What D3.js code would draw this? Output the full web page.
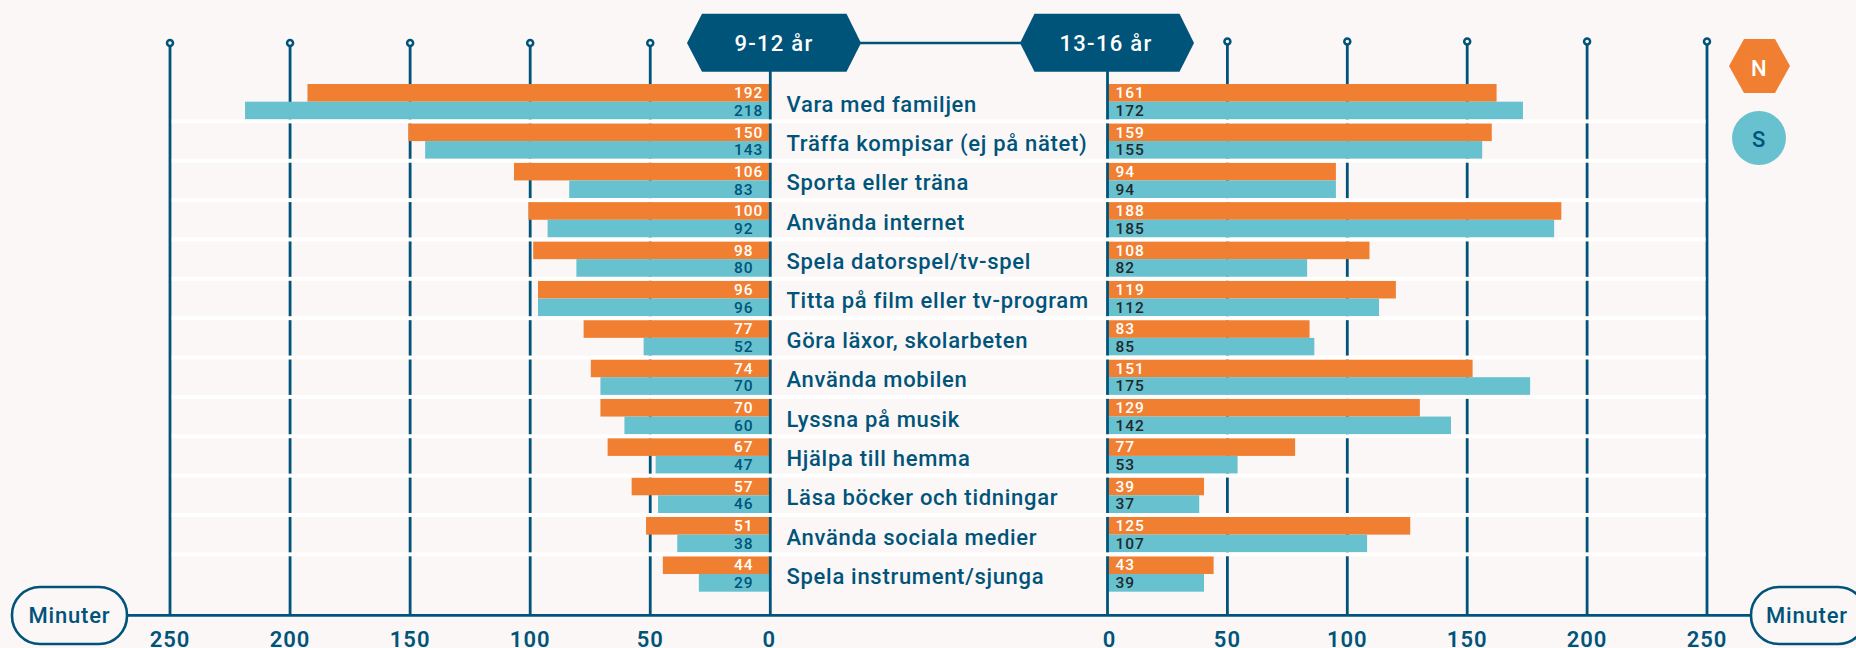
<!DOCTYPE html>
<html>
<head>
<meta charset="utf-8">
<script src="https://cdn.jsdelivr.net/npm/d3@7"></script>
<style>
html, body { margin: 0; padding: 0; background: #fbf7f6; overflow: hidden; }
text { font-family: "Roboto", "Noto Sans", sans-serif; font-weight: 500; }
</style>
</head>
<body>
<div id="chart"></div>
<script>
const categories = ['Vara med familjen', 'Träffa kompisar (ej på nätet)', 'Sporta eller träna', 'Använda internet', 'Spela datorspel/tv-spel', 'Titta på film eller tv-program', 'Göra läxor, skolarbeten', 'Använda mobilen', 'Lyssna på musik', 'Hjälpa till hemma', 'Läsa böcker och tidningar', 'Använda sociala medier', 'Spela instrument/sjunga'];
const young_n = [192, 150, 106, 100, 98, 96, 77, 74, 70, 67, 57, 51, 44];
const young_s = [218, 143, 83, 92, 80, 96, 52, 70, 60, 47, 46, 38, 29];
const old_n = [161, 159, 94, 188, 108, 119, 83, 151, 129, 77, 39, 125, 43];
const old_s = [172, 155, 94, 185, 82, 112, 85, 175, 142, 53, 37, 107, 39];
const tickValues = [0, 50, 100, 150, 200, 250];

const width = 1856;
const height = 648;
const navy = '#00547a';
const orange = '#f17f31';
const teal = '#68c1ce';
const baseY = 615.3;
const pinY = 43;

const svg = d3.select('#chart').append('svg').attr('width', width).attr('height', height);

const xLeft = d3.scaleLinear().domain([0, 250]).range([770.3, 170]);
const xRight = d3.scaleLinear().domain([0, 250]).range([1107.5, 1707]);
// the bars run a little past the grid in the original
const barLeft = d3.scaleLinear().domain([0, 250]).range([768.5, 168.2]);
const barRight = d3.scaleLinear().domain([0, 250]).range([1110.5, 1710]);
const yRow = d3.scaleBand().domain(d3.range(categories.length)).range([84, 591.7]).paddingInner(0.1);
const rowGap = yRow.step() - yRow.bandwidth();

// grid lines with the little rings on top, bars go over them
function drawTicks(x, top) {
    const g = svg.append('g');
    g.selectAll('line').data(tickValues.slice(1)).join('line')
        .attr('x1', d => x(d)).attr('x2', d => x(d))
        .attr('y1', top).attr('y2', baseY)
        .attr('stroke', navy).attr('stroke-width', 2.8);
    g.selectAll('circle').data(tickValues.slice(1)).join('circle')
        .attr('cx', d => x(d)).attr('cy', top)
        .attr('r', 3).attr('fill', '#fbf7f6')
        .attr('stroke', navy).attr('stroke-width', 2.5);
}
drawTicks(xLeft, 43);
drawTicks(xRight, 41.5);

function drawBars(x, x0, valuesN, valuesS, labelX, sLabelColor) {
    const g = svg.append('g');
    const h = yRow.bandwidth() / 2;
    [[valuesN, orange, '#ffffff', 0], [valuesS, teal, sLabelColor, h]].forEach(([values, fill, labelColor, off]) => {
        g.append('g').selectAll('rect').data(values).join('rect')
            .attr('x', d => Math.min(x0, x(d)))
            .attr('y', (d, i) => yRow(i) + off)
            .attr('width', d => Math.abs(x(d) - x0))
            .attr('height', h)
            .attr('fill', fill);
        g.append('g').selectAll('text').data(values).join('text')
            .attr('x', labelX)
            .attr('y', (d, i) => yRow(i) + off + h - 3.5)
            .attr('fill', labelColor)
            .attr('font-size', 15.5)
            .attr('letter-spacing', 1)
            .text(d => d);
    });
}
drawBars(barLeft, xLeft(0), young_n, young_s, 734, navy);
drawBars(barRight, xRight(0), old_n, old_s, 1115.5, '#20292e');

// zero lines
[xLeft, xRight].forEach(x => {
    svg.append('line')
        .attr('x1', x(0)).attr('x2', x(0)).attr('y1', 70).attr('y2', baseY)
        .attr('stroke', navy).attr('stroke-width', 2.8);
});

// white separators between rows
svg.append('g').selectAll('rect').data(categories.slice(0, -1)).join('rect')
    .attr('x', 171.8).attr('width', 1705.5 - 171.8)
    .attr('y', (d, i) => yRow(i) + yRow.bandwidth())
    .attr('height', rowGap)
    .attr('fill', '#ffffff');

// category labels
svg.append('g').selectAll('text').data(categories).join('text')
    .attr('x', 786.5)
    .attr('y', (d, i) => yRow(i) + yRow.bandwidth() / 2 + 10)
    .attr('fill', navy)
    .attr('font-size', 22)
    .attr('letter-spacing', 0.7)
    .text(d => d);

// bottom axis line and numbers
svg.append('line').attr('x1', 120).attr('x2', 1760).attr('y1', baseY).attr('y2', baseY)
    .attr('stroke', navy).attr('stroke-width', 2.8);
[xLeft, xRight].forEach(x => {
    svg.append('g').selectAll('text').data(tickValues).join('text')
        .attr('x', d => x(d) + (d === 0 ? (x === xRight ? 2 : -1) : 0))
        .attr('y', 646.7)
        .attr('text-anchor', 'middle')
        .attr('fill', navy)
        .attr('font-size', 22)
        .attr('letter-spacing', 1)
        .style('font-weight', 600)
        .text(d => d);
});

// "Minuter" pills
[[12, 69.5], [1751, 1807]].forEach(([px, tx]) => {
    svg.append('rect').attr('x', px).attr('y', 587).attr('width', 115).attr('height', 57)
        .attr('rx', 28).attr('fill', '#fbf7f6').attr('stroke', navy).attr('stroke-width', 2.6);
    svg.append('text').attr('x', tx).attr('y', 623).attr('text-anchor', 'middle')
        .attr('fill', navy).attr('font-size', 22).attr('letter-spacing', 0.8).text('Minuter');
});

// age hexagons
const hexagon = d3.line();
svg.append('line').attr('x1', 860).attr('x2', 1021).attr('y1', pinY).attr('y2', pinY)
    .attr('stroke', navy).attr('stroke-width', 2.6);
[[687, 702, 846.5, 861, '9-12 år', 774], [1020, 1034.5, 1179.5, 1194, '13-16 år', 1106]].forEach(([a, b, c, d, label, tx]) => {
    svg.append('path')
        .attr('d', hexagon([[a, pinY], [b, 13.7], [c, 13.7], [d, pinY], [c, 71.7], [b, 71.7]]) + 'Z')
        .attr('fill', navy);
    svg.append('text').attr('x', tx).attr('y', 51).attr('text-anchor', 'middle')
        .attr('fill', '#ffffff').attr('font-size', 22).attr('letter-spacing', 1.3).text(label);
});

// legend
svg.append('path')
    .attr('d', hexagon([[1729, 66], [1744, 39], [1775, 39], [1790, 66], [1775, 93], [1744, 93]]) + 'Z')
    .attr('fill', orange);
svg.append('text').attr('x', 1758.7).attr('y', 75.5).attr('text-anchor', 'middle')
    .attr('fill', '#ffffff').attr('font-size', 22).text('N');
svg.append('circle').attr('cx', 1759).attr('cy', 138).attr('r', 27).attr('fill', teal);
svg.append('text').attr('x', 1758.7).attr('y', 147).attr('text-anchor', 'middle')
    .attr('fill', navy).attr('font-size', 22).text('S');
</script>
</body>
</html>
